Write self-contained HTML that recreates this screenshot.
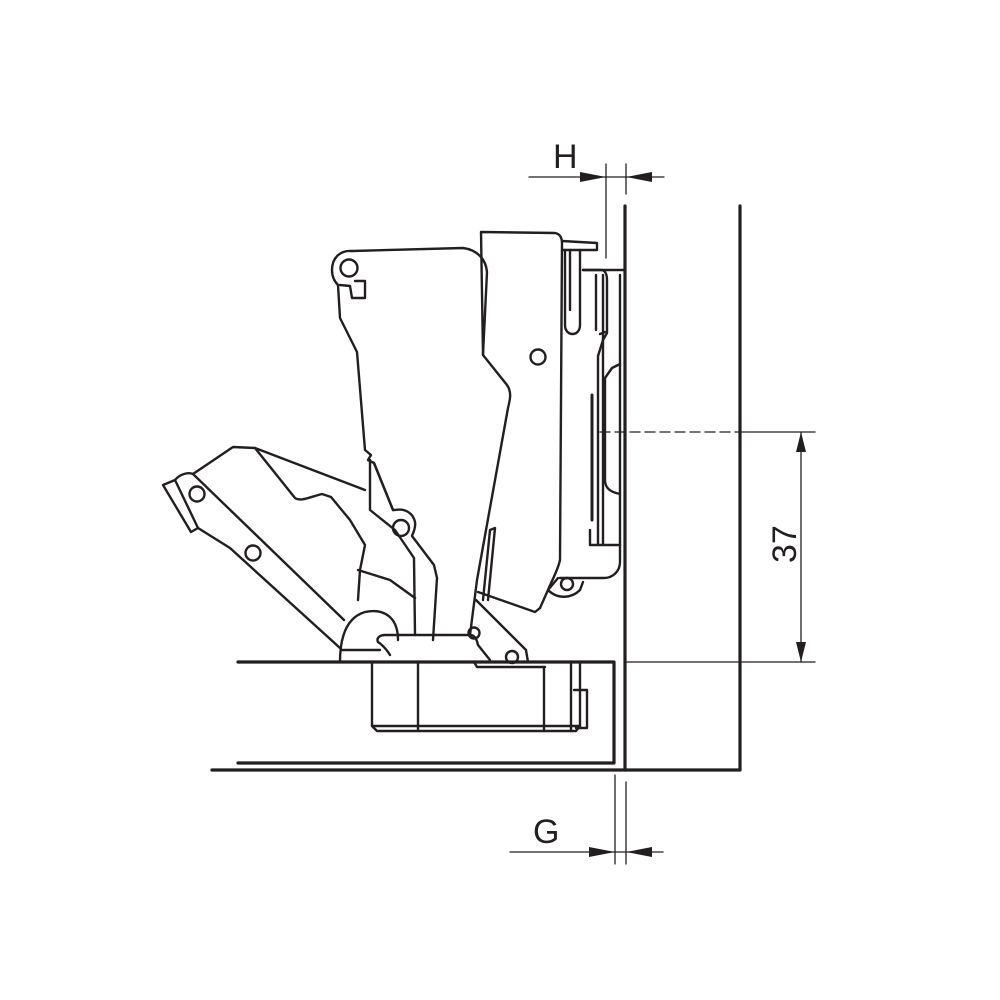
<!DOCTYPE html>
<html><head><meta charset="utf-8"><style>
html,body{margin:0;padding:0;background:#fff}
svg{display:block}
text{font-family:"Liberation Sans",Arial,sans-serif;fill:#231f20}
</style></head><body>
<svg width="1000" height="1000" viewBox="0 0 1000 1000" xmlns="http://www.w3.org/2000/svg">
<rect width="1000" height="1000" fill="#fff"/>
<g fill="none" stroke="#231f20" stroke-linejoin="round" stroke-linecap="round">
<g stroke-width="3.2">
<path d="M238 662 H614 V763 H238"/>
<path d="M212 770 H740 V206"/>
<path d="M625 206 V770"/>
</g>
<g stroke-width="1.3">
<path d="M625 662 H815"/>
<path d="M740 432 H815"/>
<path d="M600 432 H740" stroke-dasharray="10 5"/>
<path d="M801 432 V662"/>
<path d="M606 164 V258 M626 164 V194 M529 177 H664"/>
<path d="M615 775 V864 M626 782 V864 M510 852 H663"/>
</g>
<g fill="#231f20" stroke="none">
<path d="M801 432 L796 452 L806 452Z"/>
<path d="M801 662 L796 642 L806 642Z"/>
<path d="M606 177 L580 172 L580 182Z"/>
<path d="M626 177 L652 172 L652 182Z"/>
<path d="M615 852 L589 847 L589 857Z"/>
<path d="M626 852 L652 847 L652 857Z"/>
</g>
<g stroke-width="2.4">
<path d="M352 251 C340 250 332 258 332 270 C332 278 336 283 338 285 L340 318 L357 352 L365 450 L371 455 L368 460 L374 463 L393 510"/>
<path d="M352 251 L463 248 C478 250 486 260 487 272 L483 355 L507 385 C512 392 510 400 508 408 L477 580 L470 635"/>
<path d="M340 285 L350 286 L352 298 L365 298 L365 281 L355 281"/>
<circle cx="349" cy="268" r="8.5"/>
<path d="M483 355 L481 232 L555 233 C560 234 562 238 562 243 L560 560 C558 570 552 580 548 590 L540 608"/>
<path d="M562 241 L597 243 L597 250 L562 250"/>
<path d="M565 250 V325 C565 337 580 337 580 325 V250"/>
<path d="M570 250 V310"/>
<circle cx="538" cy="357" r="7.5"/>
<path d="M583 270 H624"/>
<path d="M583 270 H601 C606 270 607 276 607 280 V333 L603 340 L598 356 V545 H590 V530"/>
<path d="M596 275 V330 M600 334 L605 332"/>
<path d="M603 275 V545 M620 275 V545"/>
<path d="M605 378 L612 368 L620 364 M605 378 V480 C605 488 610 492 620 494"/>
<path d="M598 545 H620"/>
<path d="M620 545 V562 C620 572 612 578 604 578 H560"/>
<path d="M558 578 L548 590 C558 600 572 598 580 590 L583 582"/>
<circle cx="567" cy="584" r="6"/>
<path d="M592 395 V520" stroke-width="3"/>
<path d="M163 485 L175 480 L198 528 L191 532 Z"/>
<path d="M175 480 C180 474 188 472 193 474"/>
<path d="M193 474 L233 447 L255 448 L365 490"/>
<path d="M193 474 L344 620"/>
<path d="M198 528 L230 548 L340 648"/>
<path d="M255 448 L295 498 C300 502 310 497 322 494 L331 497 L350 520 L365 545 L360 570 L358 600"/>
<circle cx="197" cy="494" r="7.5"/>
<circle cx="253" cy="553" r="7.5"/>
<path d="M370 460 L370 510 L395 530 L414 558 L415 635"/>
<path d="M374 463 L393 510 L395 510 C405 508 413 513 415 522 C416 528 413 533 412 536 L434 565 L437 578 L433 640"/>
<circle cx="401" cy="528" r="8"/>
<path d="M358 570 L390 580 L415 598"/>
<path d="M340 662 C340 640 345 618 365 612 C385 608 398 618 398 640"/>
<path d="M342 650 L380 650 M378 642 C384 646 387 650 390 655"/>
<path d="M378 642 C376 638 380 635 385 635 H470 C475 635 477 640 478 645"/>
<path d="M483 600 L490 530 L495 528 L488 600"/>
<path d="M478 592 L535 612 L540 608"/>
<path d="M476 600 L526 650 L528 662"/>
<path d="M478 645 L490 660"/>
<circle cx="474" cy="633" r="5.5"/>
<circle cx="512" cy="657" r="6"/>
<path d="M474 662 L477 667 H545"/>
<path d="M372 662 V726 L377 731 H576 L580 726 V662"/>
<path d="M418 662 V731 M544 667 V731 M571 662 V731"/>
<path d="M372 726 H580"/>
<path d="M574 690 H587 V728 H576"/>
</g>
</g>
<text x="553" y="168" font-size="34">H</text>
<text x="533" y="843" font-size="34">G</text>
<text transform="translate(796,563) rotate(-90)" font-size="34">37</text>
</svg>
</body></html>
